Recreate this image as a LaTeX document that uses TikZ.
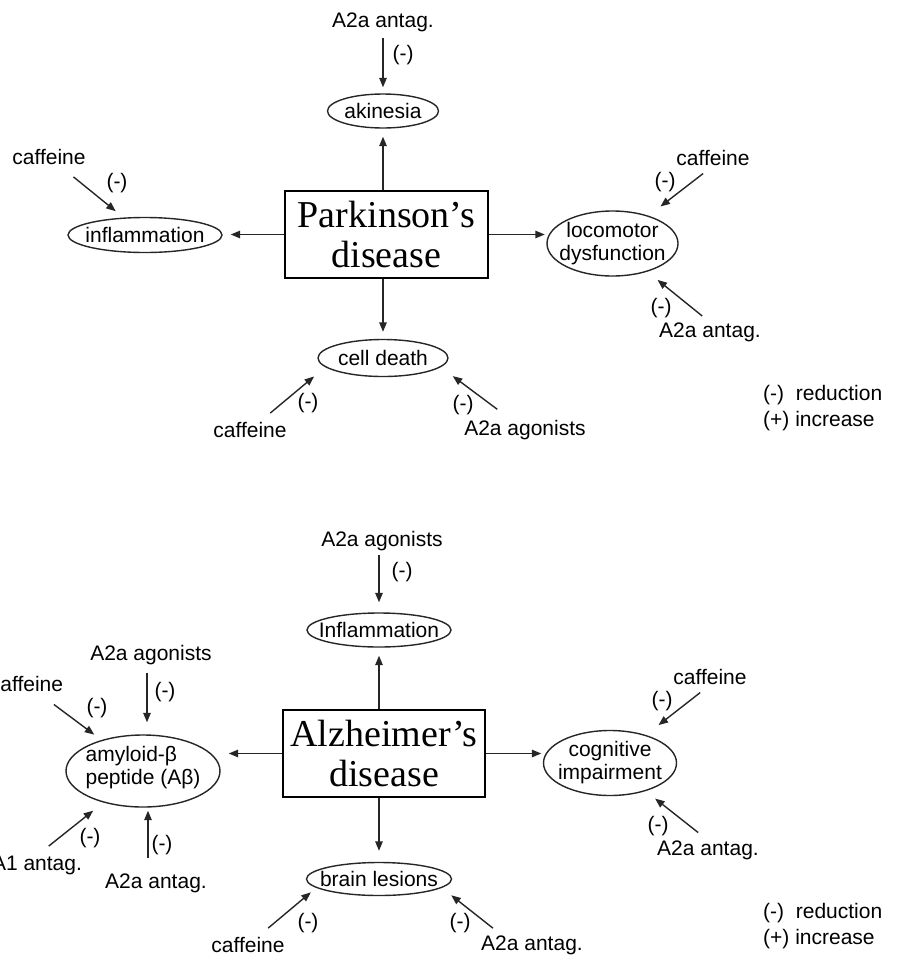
\documentclass[tikz,border=0pt]{standalone}
\usepackage{fontspec}
\setmainfont{Liberation Serif}
\setsansfont{Liberation Sans}
\usetikzlibrary{shapes.geometric}
\usetikzlibrary{arrows.meta}
\tikzset{
  % The disease in the middle of each panel
  disease/.style={
    draw=black, line width=2.6pt, rectangle, align=center,
    font=\fontsize{38}{40}\selectfont, inner sep=0pt,
    minimum width=#1, minimum height=87pt},
  % An outcome of the disease: an ellipse, its text laid on top as a label
  outcome/.style 2 args={
    draw=black!85, line width=1.4pt, ellipse, inner sep=0pt,
    minimum width=#1, minimum height=#2},
  intext/.style={font=\sffamily\fontsize{21}{23}\selectfont, inner sep=0pt, align=center},
  % Drug names, effect signs and the key
  drug/.style={font=\sffamily\fontsize{21}{25}\selectfont, inner sep=0pt},
  effect/.style={font=\sffamily\fontsize{21}{25}\selectfont, inner sep=0pt},
  keytext/.style={font=\sffamily\fontsize{21}{25.5}\selectfont, inner sep=0pt,
    align=left, anchor=west},
  % Arrows
  leads/.style={-{Triangle[length=9.5pt, width=7.5pt]}, line width=1.4pt, draw=black!85},
  acts/.style={-{Triangle[length=9.5pt, width=7.5pt]}, line width=1.4pt, draw=black!85},
}

\begin{document}
\begin{tikzpicture}[x=1pt, y=-1pt]
\useasboundingbox (0,0) rectangle (900,959);

\node[disease=203pt] (pd) at (386.5,234.5) {Parkinson's\\disease};
\node[outcome={111pt}{34pt}, label={[intext]center:akinesia}] (aki) at (383,111) {};
\node[outcome={154pt}{35pt}, label={[intext]center:inflammation}] (infl) at (145,235) {};
\node[outcome={130pt}{37pt}, label={[intext]center:cell death}] (cdeath) at (383,358) {};
\node[outcome={131pt}{65pt}, label={[intext]center:locomotor\\dysfunction}] (loco) at (612.5,243.5) {};

\draw[leads, shorten >=8pt] (pd.north -| aki) -- (aki);
\draw[leads, shorten >=7pt] (pd.south -| cdeath) -- (cdeath);
\draw[leads, shorten >=8pt] (pd.west) -- (pd.west -| infl.east);
\draw[leads, shorten >=1.5pt] (pd.east) -- (pd.east -| loco.west);

\node[drug] (antagA) at (383,22) {A2a antag.};
\node[drug] (cafA) at (49,157) {caffeine};
\node[drug] (cafB) at (713,158) {caffeine};
\node[drug] (antagB) at (710,332) {A2a antag.};
\node[drug] (cafC) at (250,430) {caffeine};
\node[drug] (agonA) at (525,430) {A2a agonists};

\draw[acts, shorten <=6pt, shorten >=6pt] (antagA) -- (aki);
\draw[acts, shorten <=19pt, shorten >=10pt] (cafA) -- (infl);
\draw[acts, shorten <=12.5pt, shorten >=15pt] (cafB.south) -- (loco);
\draw[acts, shorten <=10pt, shorten >=13pt] (antagB.north) -- (loco);
\draw[acts, shorten <=14pt, shorten >=14.5pt] (cafC) -- (cdeath.189);
\draw[acts, shorten <=18pt, shorten >=15pt] (agonA) -- (cdeath.351);

\node[effect] (eA1) at (403,55) {(-)};
\node[effect] (eA2) at (117,183) {(-)};
\node[effect] (eA3) at (665,182) {(-)};
\node[effect] (eA4) at (661,308) {(-)};
\node[effect] (eA5) at (308,403) {(-)};
\node[effect] (eA6) at (463,405) {(-)};

\node[keytext] (keyP) at (763,408) {(-)\ \ reduction\\(+) increase};

\node[disease=202pt] (ad) at (384,753.5) {Alzheimer's\\disease};
\node[outcome={144pt}{34pt}, label={[intext]center:Inflammation}] (ainfl) at (379,630) {};
\node[outcome={154pt}{72pt}, label={[intext, align=left, yshift=3pt]center:amyloid-β\\peptide (Aβ)}] (amy) at (143,771) {};
\node[outcome={145pt}{33pt}, label={[intext]center:brain lesions}] (lesion) at (379,879) {};
\node[outcome={133pt}{65pt}, label={[intext]center:cognitive\\impairment}] (cog) at (610,763) {};

\draw[leads, shorten >=8pt] (ad.north -| ainfl) -- (ainfl);
\draw[leads, shorten >=11pt] (ad.south -| lesion) -- (lesion);
\draw[leads, shorten >=8pt] (ad.west) -- (ad.west -| amy.east);
\draw[leads, shorten >=1.5pt] (ad.east) -- (ad.east -| cog.west);

\node[drug] (agonB) at (382,541) {A2a agonists};
\node[drug] (agonC) at (151,655) {A2a agonists};
\node[drug] (cafD) at (26.5,684) {caffeine};
\node[drug] (antagC) at (37,865) {A1 antag.};
\node[drug] (antagD) at (156,883) {A2a antag.};
\node[drug] (cafE) at (248,945) {caffeine};
\node[drug] (antagE) at (532,945) {A2a antag.};
\node[drug] (cafF) at (710,677) {caffeine};
\node[drug] (antagF) at (708,850) {A2a antag.};

\draw[acts, shorten <=4pt, shorten >=10pt] (agonB.south -| ainfl) -- (ainfl);
\draw[acts, shorten <=8pt, shorten >=12pt] ([xshift=-4pt]agonC.south) -- ([xshift=-4pt]agonC.south |- amy.north);
\draw[acts, shorten <=21pt, shorten >=9pt] (cafD) -- (amy);
\draw[acts, shorten <=15pt, shorten >=13pt] (antagC.north) -- (amy);
\draw[acts, shorten <=15pt, shorten >=3pt] ([xshift=-8pt]antagD.north) -- ([xshift=-8pt]antagD.north |- amy.south);
\draw[acts, shorten <=14pt, shorten >=7pt] (cafE) -- (lesion.188);
\draw[acts, shorten <=11.5pt, shorten >=12pt] ([xshift=-30pt]antagE.north) -- (lesion.352);
\draw[acts, shorten <=12.5pt, shorten >=16pt] (cafF.south) -- (cog);
\draw[acts, shorten <=12.5pt, shorten >=12pt] (antagF.north) -- (cog);

\node[effect] (eB1) at (402,572) {(-)};
\node[effect] (eB2) at (165,692) {(-)};
\node[effect] (eB3) at (97,708) {(-)};
\node[effect] (eB4) at (90,838) {(-)};
\node[effect] (eB5) at (162,845) {(-)};
\node[effect] (eB6) at (308,923) {(-)};
\node[effect] (eB7) at (460,923) {(-)};
\node[effect] (eB8) at (662,701) {(-)};
\node[effect] (eB9) at (658,826) {(-)};

\node[keytext] (keyA) at (763,926) {(-)\ \ reduction\\(+) increase};

\end{tikzpicture}
\end{document}
